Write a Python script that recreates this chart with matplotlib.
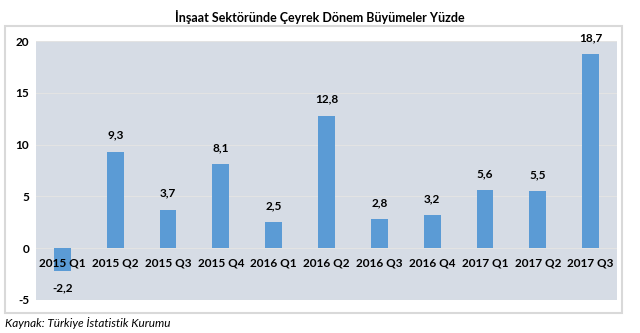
import matplotlib
matplotlib.use("Agg")
import matplotlib.pyplot as plt
from matplotlib.patches import Rectangle

categories = ["2015 Q1", "2015 Q2", "2015 Q3", "2015 Q4", "2016 Q1", "2016 Q2",
              "2016 Q3", "2016 Q4", "2017 Q1", "2017 Q2", "2017 Q3"]
values = [-2.2, 9.3, 3.7, 8.1, 2.5, 12.8, 2.8, 3.2, 5.6, 5.5, 18.7]
yticks = [-5, 0, 5, 10, 15, 20]

W, H = 640, 333
fig = plt.figure(figsize=(W / 100, H / 100), dpi=100)
fig.patch.set_facecolor("white")

font = "Lato"

# outer chart frame
fig.patches.append(Rectangle((5 / W, 1 - 313 / H), 617 / W, 287 / H,
                             transform=fig.transFigure, fill=False,
                             edgecolor="#d9d9d9", linewidth=1.5))

ax = fig.add_axes([36 / W, 1 - 300 / H, 581 / W, 259 / H])
ax.set_facecolor("#d6dce5")
ax.set_xlim(-0.5, len(categories) - 0.5)
ax.set_ylim(-5, 20)
ax.set_yticks(yticks)
ax.set_yticklabels([str(t) for t in yticks], fontfamily=font,
                   fontweight="bold", fontsize=8.5)
ax.tick_params(axis="y", length=0, pad=5)
ax.set_xticks([])
for s in ax.spines.values():
    s.set_visible(False)
ax.grid(axis="y", color="#e3e3e3", linewidth=0.8)
ax.set_axisbelow(True)

x = list(range(len(categories)))
ax.bar(x, values, width=0.32, color="#5b9bd5", zorder=3)

for xi, v, c in zip(x, values, categories):
    label = f"{v:.1f}".replace(".", ",")
    if v >= 0:
        ax.annotate(label, (xi, v), xytext=(0, 8), textcoords="offset points",
                    ha="center", va="bottom", fontfamily=font,
                    fontweight="bold", fontsize=8.5)
    else:
        ax.annotate(label, (xi, v), xytext=(0, -8), textcoords="offset points",
                    ha="center", va="top", fontfamily=font,
                    fontweight="bold", fontsize=8.5)
    ax.annotate(c, (xi, 0), xytext=(0, -11), textcoords="offset points",
                ha="center", va="center", fontfamily=font,
                fontweight="bold", fontsize=8.5, zorder=4)

fig.text(320 / W, 1 - 17 / H, "İnşaat Sektöründe Çeyrek Dönem Büyümeler Yüzde",
         ha="center", va="center", fontfamily=font, fontweight="bold",
         fontsize=9)
fig.text(5 / W, 1 - 323 / H, "Kaynak: Türkiye İstatistik Kurumu",
         ha="left", va="center", fontfamily=font, fontstyle="italic",
         fontsize=8.5)

fig.savefig("out.png", dpi=100, facecolor="white")
